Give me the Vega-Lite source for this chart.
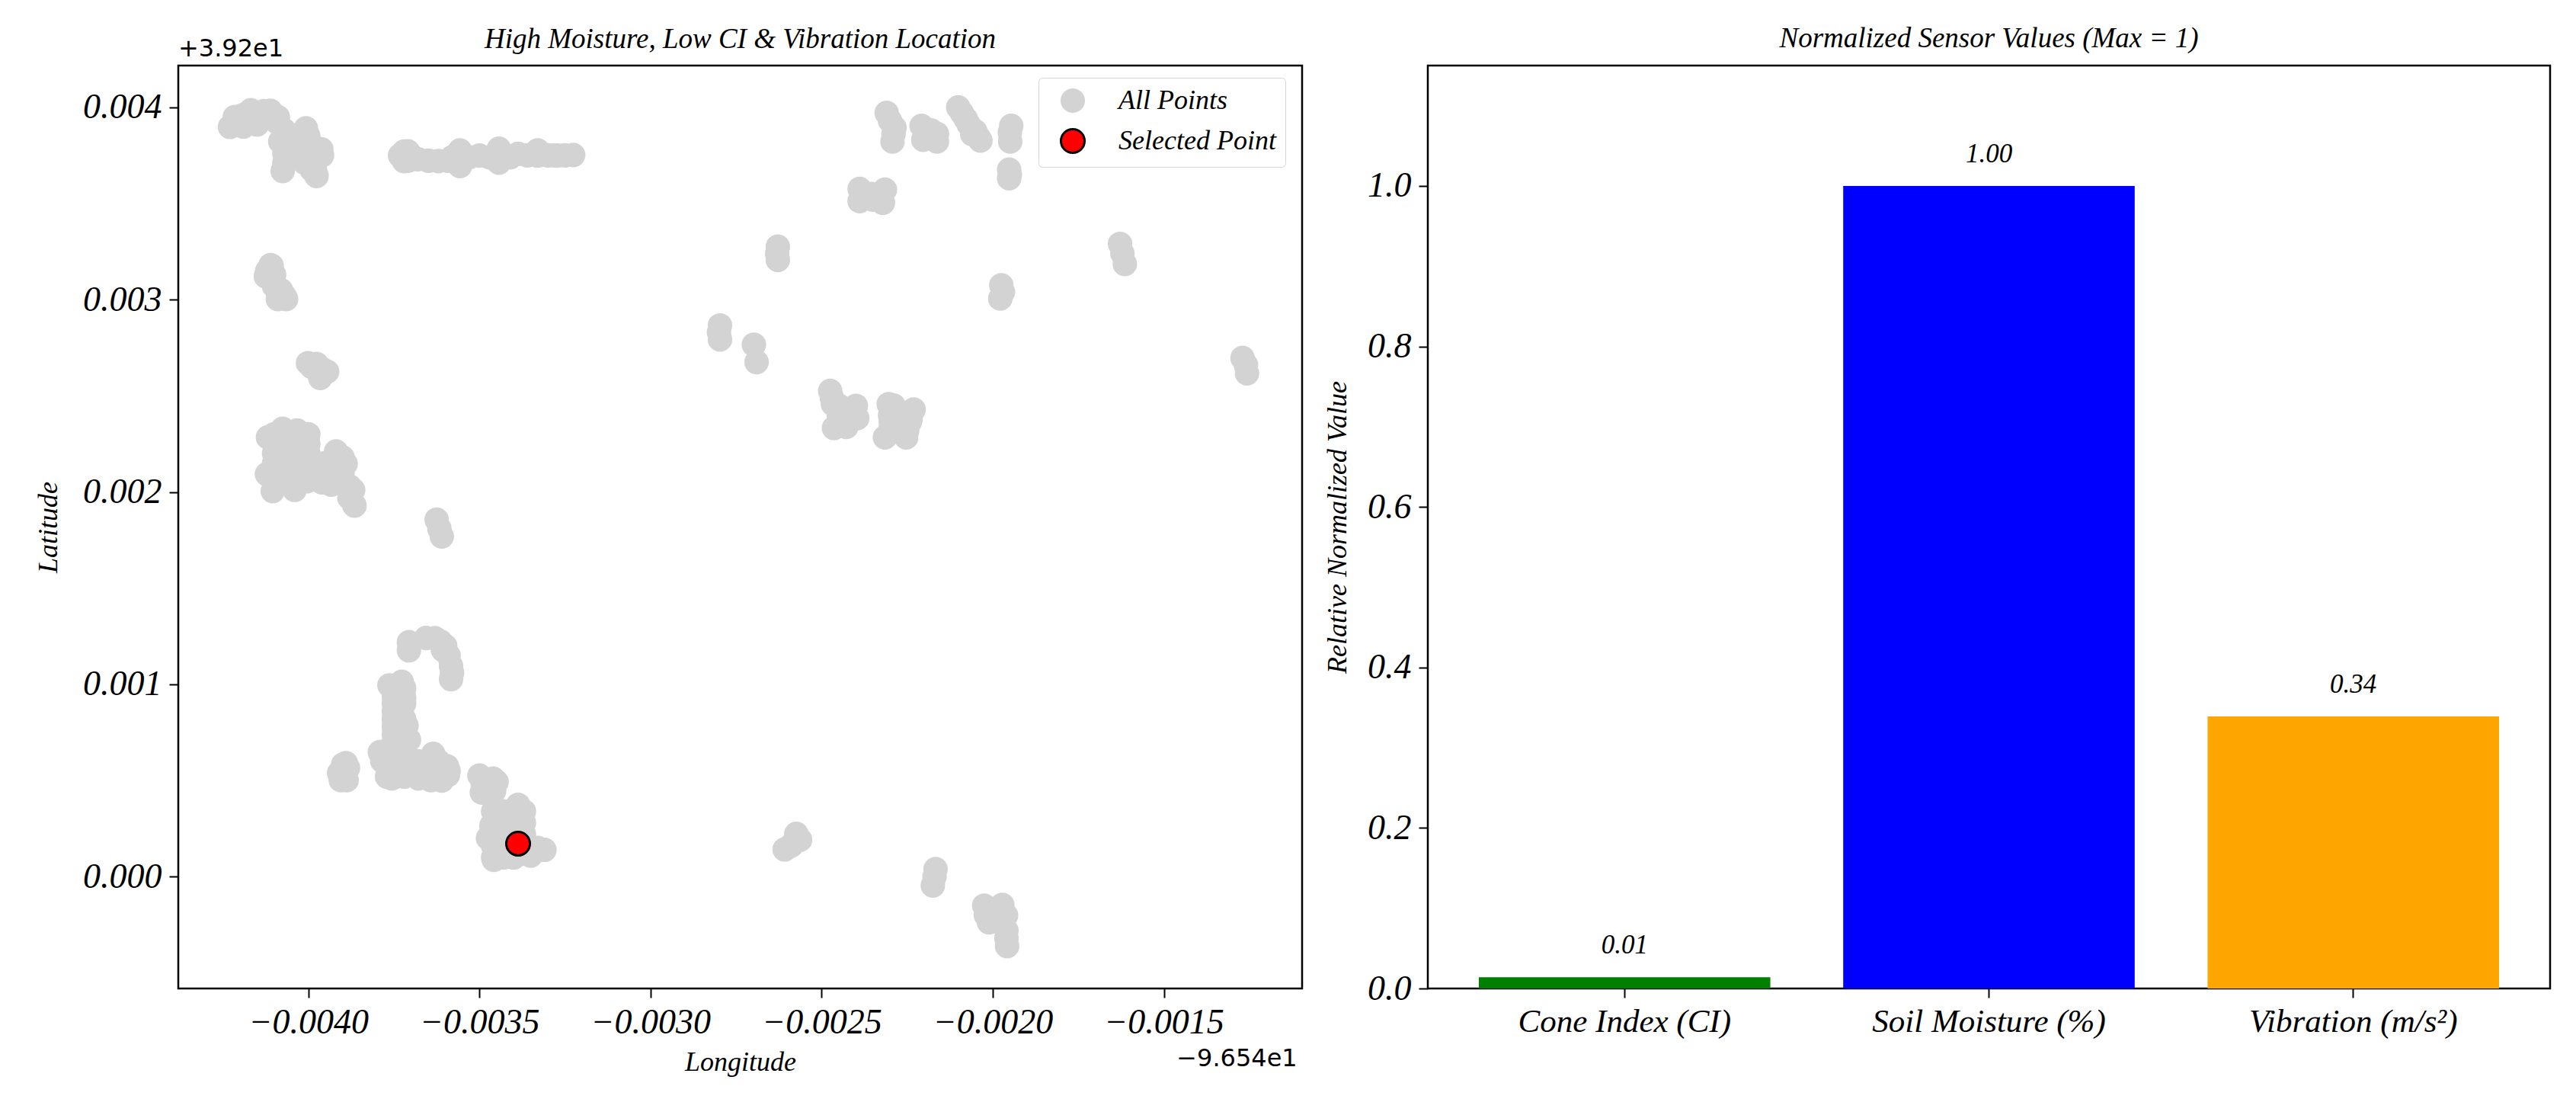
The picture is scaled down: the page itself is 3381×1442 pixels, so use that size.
{
  "$schema": "https://vega.github.io/schema/vega-lite/v6.json",
  "background": "white",
  "padding": {"left": 44, "top": 30, "right": 20, "bottom": 20},
  "bounds": "flush",
  "spacing": 165,
  "datasets": {
    "points": [
      {"lon": -0.004229, "lat": 0.003898, "series": "All Points"},
      {"lon": -0.004203, "lat": 0.003922, "series": "All Points"},
      {"lon": -0.004168, "lat": 0.003985, "series": "All Points"},
      {"lon": -0.004168, "lat": 0.003931, "series": "All Points"},
      {"lon": -0.004111, "lat": 0.003982, "series": "All Points"},
      {"lon": -0.004089, "lat": 0.003949, "series": "All Points"},
      {"lon": -0.004215, "lat": 0.003949, "series": "All Points"},
      {"lon": -0.004132, "lat": 0.003958, "series": "All Points"},
      {"lon": -0.00421, "lat": 0.00391, "series": "All Points"},
      {"lon": -0.00419, "lat": 0.00396, "series": "All Points"},
      {"lon": -0.00419, "lat": 0.0039, "series": "All Points"},
      {"lon": -0.00415, "lat": 0.00396, "series": "All Points"},
      {"lon": -0.00415, "lat": 0.00391, "series": "All Points"},
      {"lon": -0.00413, "lat": 0.00398, "series": "All Points"},
      {"lon": -0.0041, "lat": 0.00396, "series": "All Points"},
      {"lon": -0.00409, "lat": 0.00392, "series": "All Points"},
      {"lon": -0.004082, "lat": 0.003822, "series": "All Points"},
      {"lon": -0.004075, "lat": 0.003669, "series": "All Points"},
      {"lon": -0.004061, "lat": 0.003785, "series": "All Points"},
      {"lon": -0.004007, "lat": 0.003891, "series": "All Points"},
      {"lon": -0.003997, "lat": 0.003822, "series": "All Points"},
      {"lon": -0.003962, "lat": 0.003782, "series": "All Points"},
      {"lon": -0.003976, "lat": 0.003643, "series": "All Points"},
      {"lon": -0.004011, "lat": 0.003712, "series": "All Points"},
      {"lon": -0.00399, "lat": 0.003676, "series": "All Points"},
      {"lon": -0.004033, "lat": 0.003785, "series": "All Points"},
      {"lon": -0.00407, "lat": 0.00388, "series": "All Points"},
      {"lon": -0.00406, "lat": 0.00382, "series": "All Points"},
      {"lon": -0.00407, "lat": 0.00376, "series": "All Points"},
      {"lon": -0.00407, "lat": 0.00371, "series": "All Points"},
      {"lon": -0.00403, "lat": 0.00382, "series": "All Points"},
      {"lon": -0.00403, "lat": 0.00376, "series": "All Points"},
      {"lon": -0.004, "lat": 0.00385, "series": "All Points"},
      {"lon": -0.004, "lat": 0.00378, "series": "All Points"},
      {"lon": -0.00399, "lat": 0.00372, "series": "All Points"},
      {"lon": -0.00397, "lat": 0.00378, "series": "All Points"},
      {"lon": -0.00398, "lat": 0.00367, "series": "All Points"},
      {"lon": -0.00396, "lat": 0.00375, "series": "All Points"},
      {"lon": -0.003732, "lat": 0.003749, "series": "All Points"},
      {"lon": -0.003709, "lat": 0.003771, "series": "All Points"},
      {"lon": -0.003709, "lat": 0.003722, "series": "All Points"},
      {"lon": -0.003649, "lat": 0.003722, "series": "All Points"},
      {"lon": -0.003592, "lat": 0.003722, "series": "All Points"},
      {"lon": -0.003557, "lat": 0.003776, "series": "All Points"},
      {"lon": -0.003557, "lat": 0.003694, "series": "All Points"},
      {"lon": -0.0035, "lat": 0.003749, "series": "All Points"},
      {"lon": -0.003443, "lat": 0.003785, "series": "All Points"},
      {"lon": -0.003443, "lat": 0.003712, "series": "All Points"},
      {"lon": -0.003387, "lat": 0.003758, "series": "All Points"},
      {"lon": -0.00333, "lat": 0.003776, "series": "All Points"},
      {"lon": -0.00333, "lat": 0.003749, "series": "All Points"},
      {"lon": -0.003273, "lat": 0.003749, "series": "All Points"},
      {"lon": -0.003226, "lat": 0.003752, "series": "All Points"},
      {"lon": -0.00368, "lat": 0.00373, "series": "All Points"},
      {"lon": -0.00362, "lat": 0.00372, "series": "All Points"},
      {"lon": -0.00358, "lat": 0.00374, "series": "All Points"},
      {"lon": -0.00353, "lat": 0.00374, "series": "All Points"},
      {"lon": -0.00347, "lat": 0.00374, "series": "All Points"},
      {"lon": -0.00341, "lat": 0.00374, "series": "All Points"},
      {"lon": -0.00336, "lat": 0.00375, "series": "All Points"},
      {"lon": -0.0033, "lat": 0.00375, "series": "All Points"},
      {"lon": -0.00328, "lat": 0.00375, "series": "All Points"},
      {"lon": -0.00325, "lat": 0.00375, "series": "All Points"},
      {"lon": -0.0037, "lat": 0.00375, "series": "All Points"},
      {"lon": -0.00372, "lat": 0.00372, "series": "All Points"},
      {"lon": -0.00372, "lat": 0.00377, "series": "All Points"},
      {"lon": -0.004107, "lat": 0.003176, "series": "All Points"},
      {"lon": -0.004124, "lat": 0.003121, "series": "All Points"},
      {"lon": -0.004104, "lat": 0.003094, "series": "All Points"},
      {"lon": -0.004089, "lat": 0.003039, "series": "All Points"},
      {"lon": -0.004065, "lat": 0.003003, "series": "All Points"},
      {"lon": -0.004089, "lat": 0.003003, "series": "All Points"},
      {"lon": -0.00412, "lat": 0.00315, "series": "All Points"},
      {"lon": -0.0041, "lat": 0.00313, "series": "All Points"},
      {"lon": -0.0041, "lat": 0.00307, "series": "All Points"},
      {"lon": -0.00408, "lat": 0.00305, "series": "All Points"},
      {"lon": -0.00411, "lat": 0.00318, "series": "All Points"},
      {"lon": -0.00407, "lat": 0.00302, "series": "All Points"},
      {"lon": -0.004001, "lat": 0.00267, "series": "All Points"},
      {"lon": -0.003976, "lat": 0.002666, "series": "All Points"},
      {"lon": -0.003945, "lat": 0.002626, "series": "All Points"},
      {"lon": -0.003965, "lat": 0.002593, "series": "All Points"},
      {"lon": -0.00396, "lat": 0.00264, "series": "All Points"},
      {"lon": -0.00397, "lat": 0.00262, "series": "All Points"},
      {"lon": -0.00399, "lat": 0.00265, "series": "All Points"},
      {"lon": -0.004118, "lat": 0.002284, "series": "All Points"},
      {"lon": -0.004075, "lat": 0.002329, "series": "All Points"},
      {"lon": -0.004033, "lat": 0.00232, "series": "All Points"},
      {"lon": -0.004011, "lat": 0.002256, "series": "All Points"},
      {"lon": -0.004121, "lat": 0.002093, "series": "All Points"},
      {"lon": -0.004104, "lat": 0.002005, "series": "All Points"},
      {"lon": -0.00404, "lat": 0.002011, "series": "All Points"},
      {"lon": -0.004004, "lat": 0.002056, "series": "All Points"},
      {"lon": -0.004018, "lat": 0.002184, "series": "All Points"},
      {"lon": -0.004047, "lat": 0.002184, "series": "All Points"},
      {"lon": -0.004082, "lat": 0.002202, "series": "All Points"},
      {"lon": -0.004082, "lat": 0.002093, "series": "All Points"},
      {"lon": -0.003919, "lat": 0.002211, "series": "All Points"},
      {"lon": -0.003891, "lat": 0.002147, "series": "All Points"},
      {"lon": -0.003933, "lat": 0.002038, "series": "All Points"},
      {"lon": -0.003869, "lat": 0.002011, "series": "All Points"},
      {"lon": -0.003865, "lat": 0.001929, "series": "All Points"},
      {"lon": -0.003962, "lat": 0.002147, "series": "All Points"},
      {"lon": -0.0041, "lat": 0.0023, "series": "All Points"},
      {"lon": -0.0041, "lat": 0.00225, "series": "All Points"},
      {"lon": -0.0041, "lat": 0.0022, "series": "All Points"},
      {"lon": -0.0041, "lat": 0.00215, "series": "All Points"},
      {"lon": -0.0041, "lat": 0.0021, "series": "All Points"},
      {"lon": -0.0041, "lat": 0.00205, "series": "All Points"},
      {"lon": -0.00405, "lat": 0.0023, "series": "All Points"},
      {"lon": -0.00405, "lat": 0.00225, "series": "All Points"},
      {"lon": -0.00405, "lat": 0.0022, "series": "All Points"},
      {"lon": -0.00405, "lat": 0.00215, "series": "All Points"},
      {"lon": -0.00405, "lat": 0.0021, "series": "All Points"},
      {"lon": -0.00405, "lat": 0.00205, "series": "All Points"},
      {"lon": -0.004, "lat": 0.0023, "series": "All Points"},
      {"lon": -0.004, "lat": 0.00225, "series": "All Points"},
      {"lon": -0.004, "lat": 0.0022, "series": "All Points"},
      {"lon": -0.004, "lat": 0.00215, "series": "All Points"},
      {"lon": -0.004, "lat": 0.0021, "series": "All Points"},
      {"lon": -0.00395, "lat": 0.0021, "series": "All Points"},
      {"lon": -0.00395, "lat": 0.00215, "series": "All Points"},
      {"lon": -0.00393, "lat": 0.00205, "series": "All Points"},
      {"lon": -0.0039, "lat": 0.00218, "series": "All Points"},
      {"lon": -0.0039, "lat": 0.0021, "series": "All Points"},
      {"lon": -0.00388, "lat": 0.00203, "series": "All Points"},
      {"lon": -0.00396, "lat": 0.00205, "series": "All Points"},
      {"lon": -0.00388, "lat": 0.00197, "series": "All Points"},
      {"lon": -0.003625, "lat": 0.001856, "series": "All Points"},
      {"lon": -0.003617, "lat": 0.00181, "series": "All Points"},
      {"lon": -0.00361, "lat": 0.001769, "series": "All Points"},
      {"lon": -0.003706, "lat": 0.001219, "series": "All Points"},
      {"lon": -0.003706, "lat": 0.001177, "series": "All Points"},
      {"lon": -0.003656, "lat": 0.001241, "series": "All Points"},
      {"lon": -0.003614, "lat": 0.001223, "series": "All Points"},
      {"lon": -0.003607, "lat": 0.00118, "series": "All Points"},
      {"lon": -0.003583, "lat": 0.001095, "series": "All Points"},
      {"lon": -0.003583, "lat": 0.001027, "series": "All Points"},
      {"lon": -0.00363, "lat": 0.00124, "series": "All Points"},
      {"lon": -0.0036, "lat": 0.0012, "series": "All Points"},
      {"lon": -0.00359, "lat": 0.00115, "series": "All Points"},
      {"lon": -0.00358, "lat": 0.00106, "series": "All Points"},
      {"lon": -0.003763, "lat": 0.000995, "series": "All Points"},
      {"lon": -0.003727, "lat": 0.001013, "series": "All Points"},
      {"lon": -0.00372, "lat": 0.000931, "series": "All Points"},
      {"lon": -0.003742, "lat": 0.000839, "series": "All Points"},
      {"lon": -0.003713, "lat": 0.000785, "series": "All Points"},
      {"lon": -0.003727, "lat": 0.000858, "series": "All Points"},
      {"lon": -0.003749, "lat": 0.000931, "series": "All Points"},
      {"lon": -0.003706, "lat": 0.000712, "series": "All Points"},
      {"lon": -0.00375, "lat": 0.00098, "series": "All Points"},
      {"lon": -0.00375, "lat": 0.00094, "series": "All Points"},
      {"lon": -0.00375, "lat": 0.0009, "series": "All Points"},
      {"lon": -0.00375, "lat": 0.00086, "series": "All Points"},
      {"lon": -0.00375, "lat": 0.00082, "series": "All Points"},
      {"lon": -0.00375, "lat": 0.00078, "series": "All Points"},
      {"lon": -0.00375, "lat": 0.00074, "series": "All Points"},
      {"lon": -0.00375, "lat": 0.0007, "series": "All Points"},
      {"lon": -0.00372, "lat": 0.00098, "series": "All Points"},
      {"lon": -0.00372, "lat": 0.0009, "series": "All Points"},
      {"lon": -0.00372, "lat": 0.00082, "series": "All Points"},
      {"lon": -0.00372, "lat": 0.00078, "series": "All Points"},
      {"lon": -0.00372, "lat": 0.00074, "series": "All Points"},
      {"lon": -0.00372, "lat": 0.0007, "series": "All Points"},
      {"lon": -0.003791, "lat": 0.000648, "series": "All Points"},
      {"lon": -0.003784, "lat": 0.000602, "series": "All Points"},
      {"lon": -0.003756, "lat": 0.000511, "series": "All Points"},
      {"lon": -0.00372, "lat": 0.000584, "series": "All Points"},
      {"lon": -0.003678, "lat": 0.000511, "series": "All Points"},
      {"lon": -0.003642, "lat": 0.000502, "series": "All Points"},
      {"lon": -0.003635, "lat": 0.000639, "series": "All Points"},
      {"lon": -0.003592, "lat": 0.000529, "series": "All Points"},
      {"lon": -0.003595, "lat": 0.000575, "series": "All Points"},
      {"lon": -0.003706, "lat": 0.000602, "series": "All Points"},
      {"lon": -0.00377, "lat": 0.0006, "series": "All Points"},
      {"lon": -0.00374, "lat": 0.00056, "series": "All Points"},
      {"lon": -0.00377, "lat": 0.00052, "series": "All Points"},
      {"lon": -0.00372, "lat": 0.00052, "series": "All Points"},
      {"lon": -0.00368, "lat": 0.00055, "series": "All Points"},
      {"lon": -0.00368, "lat": 0.0006, "series": "All Points"},
      {"lon": -0.00372, "lat": 0.00064, "series": "All Points"},
      {"lon": -0.00365, "lat": 0.00052, "series": "All Points"},
      {"lon": -0.00365, "lat": 0.0006, "series": "All Points"},
      {"lon": -0.00362, "lat": 0.00055, "series": "All Points"},
      {"lon": -0.00362, "lat": 0.0006, "series": "All Points"},
      {"lon": -0.00378, "lat": 0.00065, "series": "All Points"},
      {"lon": -0.00361, "lat": 0.0005, "series": "All Points"},
      {"lon": -0.00359, "lat": 0.00055, "series": "All Points"},
      {"lon": -0.003898, "lat": 0.000584, "series": "All Points"},
      {"lon": -0.003905, "lat": 0.000502, "series": "All Points"},
      {"lon": -0.003888, "lat": 0.000502, "series": "All Points"},
      {"lon": -0.003884, "lat": 0.000566, "series": "All Points"},
      {"lon": -0.00389, "lat": 0.00054, "series": "All Points"},
      {"lon": -0.00391, "lat": 0.00054, "series": "All Points"},
      {"lon": -0.00389, "lat": 0.00059, "series": "All Points"},
      {"lon": -0.0035, "lat": 0.000526, "series": "All Points"},
      {"lon": -0.003493, "lat": 0.000438, "series": "All Points"},
      {"lon": -0.00345, "lat": 0.000493, "series": "All Points"},
      {"lon": -0.003457, "lat": 0.000447, "series": "All Points"},
      {"lon": -0.00349, "lat": 0.00048, "series": "All Points"},
      {"lon": -0.00346, "lat": 0.00051, "series": "All Points"},
      {"lon": -0.00346, "lat": 0.00045, "series": "All Points"},
      {"lon": -0.003387, "lat": 0.000374, "series": "All Points"},
      {"lon": -0.003422, "lat": 0.000338, "series": "All Points"},
      {"lon": -0.003465, "lat": 0.000265, "series": "All Points"},
      {"lon": -0.003437, "lat": 0.0003, "series": "All Points"},
      {"lon": -0.003475, "lat": 0.000201, "series": "All Points"},
      {"lon": -0.003458, "lat": 0.000088, "series": "All Points"},
      {"lon": -0.003408, "lat": 0.000109, "series": "All Points"},
      {"lon": -0.003351, "lat": 0.00015, "series": "All Points"},
      {"lon": -0.003344, "lat": 0.000128, "series": "All Points"},
      {"lon": -0.003422, "lat": 0.000182, "series": "All Points"},
      {"lon": -0.003394, "lat": 0.000237, "series": "All Points"},
      {"lon": -0.00346, "lat": 0.00034, "series": "All Points"},
      {"lon": -0.00346, "lat": 0.00028, "series": "All Points"},
      {"lon": -0.00346, "lat": 0.00022, "series": "All Points"},
      {"lon": -0.00346, "lat": 0.00016, "series": "All Points"},
      {"lon": -0.00346, "lat": 0.0001, "series": "All Points"},
      {"lon": -0.00343, "lat": 0.00034, "series": "All Points"},
      {"lon": -0.00343, "lat": 0.00028, "series": "All Points"},
      {"lon": -0.00343, "lat": 0.00022, "series": "All Points"},
      {"lon": -0.00343, "lat": 0.00016, "series": "All Points"},
      {"lon": -0.00343, "lat": 0.0001, "series": "All Points"},
      {"lon": -0.0034, "lat": 0.00034, "series": "All Points"},
      {"lon": -0.0034, "lat": 0.00028, "series": "All Points"},
      {"lon": -0.0034, "lat": 0.00016, "series": "All Points"},
      {"lon": -0.0034, "lat": 0.0001, "series": "All Points"},
      {"lon": -0.00337, "lat": 0.00034, "series": "All Points"},
      {"lon": -0.00337, "lat": 0.00028, "series": "All Points"},
      {"lon": -0.00337, "lat": 0.00022, "series": "All Points"},
      {"lon": -0.00337, "lat": 0.00012, "series": "All Points"},
      {"lon": -0.00333, "lat": 0.00015, "series": "All Points"},
      {"lon": -0.00331, "lat": 0.00014, "series": "All Points"},
      {"lon": -0.00335, "lat": 0.00011, "series": "All Points"},
      {"lon": -0.00231, "lat": 0.003971, "series": "All Points"},
      {"lon": -0.002287, "lat": 0.003894, "series": "All Points"},
      {"lon": -0.002293, "lat": 0.003822, "series": "All Points"},
      {"lon": -0.0023, "lat": 0.00393, "series": "All Points"},
      {"lon": -0.00229, "lat": 0.00386, "series": "All Points"},
      {"lon": -0.002208, "lat": 0.003904, "series": "All Points"},
      {"lon": -0.002203, "lat": 0.003831, "series": "All Points"},
      {"lon": -0.002163, "lat": 0.003862, "series": "All Points"},
      {"lon": -0.002163, "lat": 0.003822, "series": "All Points"},
      {"lon": -0.00218, "lat": 0.00388, "series": "All Points"},
      {"lon": -0.00218, "lat": 0.00384, "series": "All Points"},
      {"lon": -0.002101, "lat": 0.004, "series": "All Points"},
      {"lon": -0.002079, "lat": 0.00394, "series": "All Points"},
      {"lon": -0.002051, "lat": 0.003876, "series": "All Points"},
      {"lon": -0.002036, "lat": 0.003827, "series": "All Points"},
      {"lon": -0.00209, "lat": 0.00397, "series": "All Points"},
      {"lon": -0.00207, "lat": 0.00391, "series": "All Points"},
      {"lon": -0.00206, "lat": 0.00386, "series": "All Points"},
      {"lon": -0.00204, "lat": 0.00384, "series": "All Points"},
      {"lon": -0.001946, "lat": 0.003904, "series": "All Points"},
      {"lon": -0.001949, "lat": 0.003822, "series": "All Points"},
      {"lon": -0.00195, "lat": 0.00387, "series": "All Points"},
      {"lon": -0.001952, "lat": 0.003676, "series": "All Points"},
      {"lon": -0.001952, "lat": 0.003631, "series": "All Points"},
      {"lon": -0.00195, "lat": 0.00365, "series": "All Points"},
      {"lon": -0.002389, "lat": 0.003576, "series": "All Points"},
      {"lon": -0.002389, "lat": 0.003512, "series": "All Points"},
      {"lon": -0.002315, "lat": 0.003572, "series": "All Points"},
      {"lon": -0.002321, "lat": 0.003503, "series": "All Points"},
      {"lon": -0.002355, "lat": 0.003549, "series": "All Points"},
      {"lon": -0.00235, "lat": 0.00352, "series": "All Points"},
      {"lon": -0.002628, "lat": 0.003276, "series": "All Points"},
      {"lon": -0.00263, "lat": 0.00324, "series": "All Points"},
      {"lon": -0.002628, "lat": 0.003206, "series": "All Points"},
      {"lon": -0.002797, "lat": 0.002866, "series": "All Points"},
      {"lon": -0.0028, "lat": 0.00283, "series": "All Points"},
      {"lon": -0.002797, "lat": 0.002793, "series": "All Points"},
      {"lon": -0.002698, "lat": 0.002766, "series": "All Points"},
      {"lon": -0.00269, "lat": 0.002675, "series": "All Points"},
      {"lon": -0.001628, "lat": 0.00329, "series": "All Points"},
      {"lon": -0.001614, "lat": 0.003185, "series": "All Points"},
      {"lon": -0.001621, "lat": 0.00324, "series": "All Points"},
      {"lon": -0.001975, "lat": 0.003075, "series": "All Points"},
      {"lon": -0.00197, "lat": 0.00304, "series": "All Points"},
      {"lon": -0.001978, "lat": 0.003006, "series": "All Points"},
      {"lon": -0.00127, "lat": 0.002697, "series": "All Points"},
      {"lon": -0.00126, "lat": 0.00266, "series": "All Points"},
      {"lon": -0.001257, "lat": 0.002617, "series": "All Points"},
      {"lon": -0.002475, "lat": 0.002526, "series": "All Points"},
      {"lon": -0.002467, "lat": 0.002457, "series": "All Points"},
      {"lon": -0.002464, "lat": 0.002333, "series": "All Points"},
      {"lon": -0.002428, "lat": 0.002338, "series": "All Points"},
      {"lon": -0.0024, "lat": 0.002448, "series": "All Points"},
      {"lon": -0.002396, "lat": 0.002384, "series": "All Points"},
      {"lon": -0.002434, "lat": 0.00242, "series": "All Points"},
      {"lon": -0.00245, "lat": 0.0024, "series": "All Points"},
      {"lon": -0.00245, "lat": 0.00235, "series": "All Points"},
      {"lon": -0.00242, "lat": 0.0024, "series": "All Points"},
      {"lon": -0.00245, "lat": 0.00245, "series": "All Points"},
      {"lon": -0.00247, "lat": 0.00249, "series": "All Points"},
      {"lon": -0.002304, "lat": 0.002457, "series": "All Points"},
      {"lon": -0.002315, "lat": 0.002284, "series": "All Points"},
      {"lon": -0.002298, "lat": 0.002366, "series": "All Points"},
      {"lon": -0.002231, "lat": 0.002429, "series": "All Points"},
      {"lon": -0.002253, "lat": 0.002284, "series": "All Points"},
      {"lon": -0.002242, "lat": 0.002366, "series": "All Points"},
      {"lon": -0.002276, "lat": 0.002366, "series": "All Points"},
      {"lon": -0.0023, "lat": 0.0024, "series": "All Points"},
      {"lon": -0.0023, "lat": 0.00232, "series": "All Points"},
      {"lon": -0.00227, "lat": 0.00232, "series": "All Points"},
      {"lon": -0.00227, "lat": 0.0024, "series": "All Points"},
      {"lon": -0.00224, "lat": 0.00238, "series": "All Points"},
      {"lon": -0.00225, "lat": 0.00232, "series": "All Points"},
      {"lon": -0.00229, "lat": 0.00245, "series": "All Points"},
      {"lon": -0.002608, "lat": 0.000142, "series": "All Points"},
      {"lon": -0.002574, "lat": 0.000223, "series": "All Points"},
      {"lon": -0.002563, "lat": 0.000192, "series": "All Points"},
      {"lon": -0.002586, "lat": 0.000168, "series": "All Points"},
      {"lon": -0.00259, "lat": 0.00016, "series": "All Points"},
      {"lon": -0.002167, "lat": 0.00004, "series": "All Points"},
      {"lon": -0.00217, "lat": 0, "series": "All Points"},
      {"lon": -0.002175, "lat": -0.000046, "series": "All Points"},
      {"lon": -0.002025, "lat": -0.00015, "series": "All Points"},
      {"lon": -0.002011, "lat": -0.000237, "series": "All Points"},
      {"lon": -0.001972, "lat": -0.000146, "series": "All Points"},
      {"lon": -0.001961, "lat": -0.000201, "series": "All Points"},
      {"lon": -0.001958, "lat": -0.000361, "series": "All Points"},
      {"lon": -0.001994, "lat": -0.000219, "series": "All Points"},
      {"lon": -0.002, "lat": -0.00018, "series": "All Points"},
      {"lon": -0.00197, "lat": -0.00018, "series": "All Points"},
      {"lon": -0.00202, "lat": -0.0002, "series": "All Points"},
      {"lon": -0.00196, "lat": -0.00028, "series": "All Points"},
      {"lon": -0.00196, "lat": -0.00032, "series": "All Points"},
      {"lon": -0.00199, "lat": -0.00023, "series": "All Points"},
      {"lon": -0.003387, "lat": 0.000172, "series": "Selected Point"}
    ],
    "offsets": [
      {"lon": -0.00438, "lat": 0.004265, "label": "+3.92e1", "align": "left"},
      {"lon": -0.00111, "lat": -0.000985, "label": "−9.654e1", "align": "right"}
    ],
    "sensors": [
      {"sensor": "Cone Index (CI)", "value": 0.014},
      {"sensor": "Soil Moisture (%)", "value": 1.0},
      {"sensor": "Vibration (m/s²)", "value": 0.339}
    ]
  },
  "hconcat": [
    {
      "width": 1475,
      "height": 1211,
      "title": {"text": "High Moisture, Low CI & Vibration Location", "offset": -23},
      "layer": [
        {
          "data": {"name": "points"},
          "mark": {"type": "point", "shape": "circle", "filled": true, "strokeWidth": 3, "opacity": 1},
          "encoding": {
            "x": {
              "field": "lon",
              "type": "quantitative",
              "title": "Longitude",
              "scale": {"domain": [-0.00438, -0.001096], "nice": false, "zero": false},
              "axis": {"values": [-0.004, -0.0035, -0.003, -0.0025, -0.002, -0.0015], "format": ".4f", "titlePadding": 12}
            },
            "y": {
              "field": "lat",
              "type": "quantitative",
              "title": "Latitude",
              "scale": {"domain": [-0.000581, 0.004217], "nice": false, "zero": false},
              "axis": {"values": [0, 0.001, 0.002, 0.003, 0.004], "format": ".3f", "titlePadding": 26}
            },
            "fill": {
              "field": "series",
              "type": "nominal",
              "scale": {"domain": ["All Points", "Selected Point"], "range": ["#d3d3d3", "#ff0000"]},
              "legend": {
                "title": null,
                "orient": "none",
                "legendX": 1129,
                "legendY": 16,
                "encode": {"symbols": {"update": {"size": [{"test": "datum.value === 'All Points'", "value": 707}, {"value": 1050}]}}}
              }
            },
            "stroke": {
              "field": "series",
              "type": "nominal",
              "scale": {"domain": ["All Points", "Selected Point"], "range": ["#d3d3d3", "#000000"]},
              "legend": {"title": null, "orient": "none", "legendX": 1129, "legendY": 16}
            },
            "size": {
              "field": "series",
              "type": "nominal",
              "scale": {"type": "ordinal", "domain": ["All Points", "Selected Point"], "range": [850, 962]},
              "legend": {"title": null, "orient": "none", "legendX": 1129, "legendY": 16}
            }
          }
        },
        {
          "data": {"name": "offsets"},
          "transform": [{"filter": "datum.align === 'left'"}],
          "mark": {"type": "text", "font": "DejaVu Sans", "fontSize": 32, "fontStyle": "normal", "align": "left", "baseline": "alphabetic", "color": "black"},
          "encoding": {
            "x": {"field": "lon", "type": "quantitative"},
            "y": {"field": "lat", "type": "quantitative"},
            "text": {"field": "label"}
          }
        },
        {
          "data": {"name": "offsets"},
          "transform": [{"filter": "datum.align === 'right'"}],
          "mark": {"type": "text", "font": "DejaVu Sans", "fontSize": 32, "fontStyle": "normal", "align": "right", "baseline": "alphabetic", "color": "black"},
          "encoding": {
            "x": {"field": "lon", "type": "quantitative"},
            "y": {"field": "lat", "type": "quantitative"},
            "text": {"field": "label"}
          }
        }
      ]
    },
    {
      "width": 1473,
      "height": 1211,
      "title": {"text": "Normalized Sensor Values (Max = 1)", "offset": 16},
      "data": {"name": "sensors"},
      "encoding": {
        "x": {
          "field": "sensor",
          "type": "nominal",
          "sort": null,
          "title": null,
          "scale": {"paddingInner": 0.2, "paddingOuter": 0.14},
          "axis": {"labelAngle": 0, "labelFontSize": 43, "labelLimit": 1000}
        }
      },
      "layer": [
        {
          "mark": {"type": "bar"},
          "encoding": {
            "y": {
              "field": "value",
              "type": "quantitative",
              "title": "Relative Normalized Value",
              "scale": {"domain": [0, 1.15], "nice": false},
              "axis": {"values": [0, 0.2, 0.4, 0.6, 0.8, 1.0], "format": ".1f", "titlePadding": 20}
            },
            "color": {
              "field": "sensor",
              "type": "nominal",
              "sort": null,
              "scale": {"domain": ["Cone Index (CI)", "Soil Moisture (%)", "Vibration (m/s²)"], "range": ["#008000", "#0000ff", "#ffa500"]},
              "legend": null
            }
          }
        },
        {
          "mark": {"type": "text", "baseline": "alphabetic", "dy": -31, "fontSize": 35, "font": "Liberation Serif", "fontStyle": "italic", "color": "black"},
          "encoding": {
            "y": {"field": "value", "type": "quantitative"},
            "text": {"field": "value", "format": ".2f"}
          }
        }
      ]
    }
  ],
  "config": {
    "view": {"stroke": "black", "strokeWidth": 2.5},
    "title": {"font": "Liberation Serif", "fontStyle": "italic", "fontWeight": "normal", "fontSize": 37, "color": "black", "anchor": "middle"},
    "axis": {
      "grid": false,
      "domain": false,
      "tickColor": "black",
      "tickWidth": 2,
      "tickSize": 12,
      "labelFont": "Liberation Serif",
      "labelFontStyle": "italic",
      "labelFontSize": 46,
      "labelColor": "black",
      "labelPadding": 10,
      "labelFlush": false,
      "titleFont": "Liberation Serif",
      "titleFontStyle": "italic",
      "titleFontWeight": "normal",
      "titleFontSize": 36,
      "titleColor": "black"
    },
    "legend": {
      "labelFont": "Liberation Serif",
      "labelFontStyle": "italic",
      "labelFontSize": 36,
      "labelColor": "black",
      "labelLimit": 400,
      "padding": 12,
      "cornerRadius": 5,
      "strokeColor": "#d5d5d5",
      "fillColor": "white",
      "rowPadding": 10,
      "symbolStrokeWidth": 3,
      "symbolOffset": 15,
      "labelOffset": 42
    }
  }
}
